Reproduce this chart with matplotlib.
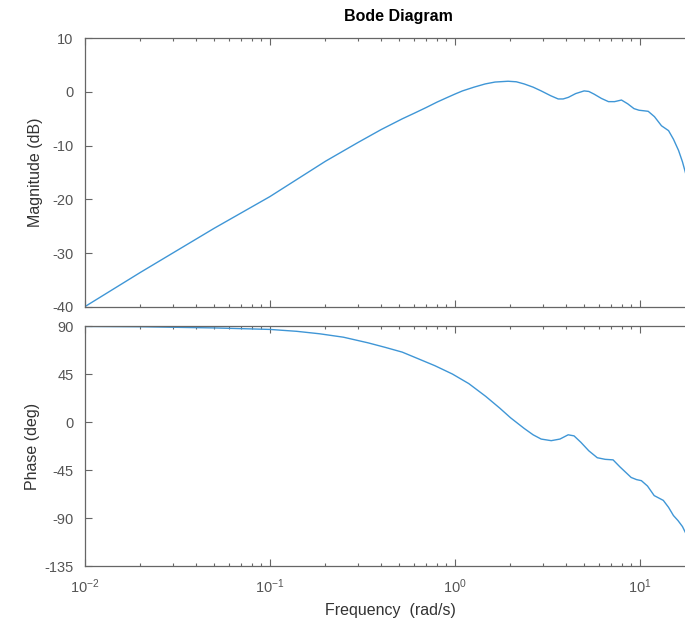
import matplotlib
matplotlib.use("Agg")
import matplotlib.pyplot as plt
from matplotlib.ticker import LogLocator, NullFormatter, FixedLocator

plt.rcParams['font.family'] = ['Liberation Sans', 'DejaVu Sans']
plt.rcParams['axes.unicode_minus'] = False

mag_w = [0.01, 0.02, 0.05, 0.1, 0.2, 0.3, 0.4, 0.52, 0.6, 0.7, 0.8, 0.9, 1.0,
         1.1, 1.27, 1.46, 1.65, 1.94, 2.15, 2.37, 2.65, 2.93, 3.3, 3.62, 3.85,
         4.11, 4.5, 5.0, 5.3, 5.66, 6.2, 6.77, 7.3, 7.96, 8.6, 9.3, 9.9, 10.5,
         11.1, 12.0, 13.1, 14.3, 15.2, 16.2, 17.0, 17.9, 20.0]
mag_db = [-40.0, -33.6, -25.4, -19.5, -12.9, -9.4, -7.0, -5.0, -4.0, -2.9, -1.9, -1.1, -0.4,
          0.2, 0.9, 1.5, 1.85, 2.0, 1.9, 1.5, 0.9, 0.2, -0.7, -1.3, -1.3,
          -1.0, -0.3, 0.2, 0.1, -0.4, -1.2, -1.8, -1.8, -1.5, -2.2, -3.1, -3.4, -3.5,
          -3.6, -4.6, -6.3, -7.2, -8.8, -10.9, -13.0, -15.8, -20.0]

ph_w = [0.01, 0.02, 0.05, 0.1, 0.14, 0.186, 0.25, 0.34, 0.42, 0.52, 0.63, 0.78,
        0.97, 1.19, 1.47, 1.75, 2.0, 2.37, 2.65, 2.93, 3.32, 3.7, 4.1, 4.41,
        4.8, 5.3, 5.89, 6.5, 7.17, 7.8, 8.98, 9.6, 10.2, 11.0, 11.96, 13.4,
        14.3, 15.2, 16.1, 17.0, 17.8, 20.0]
ph_deg = [89.6, 89.3, 88.2, 86.8, 85.0, 82.7, 79.5, 74.2, 70.0, 65.5, 59.5, 52.8,
          45.0, 36.0, 24.0, 13.0, 4.0, -6.0, -12.0, -16.0, -17.5, -16.0, -12.0, -13.0,
          -19.0, -27.0, -33.5, -35.0, -35.5, -42.0, -52.0, -54.0, -55.0, -60.0, -69.0, -73.5,
          -80.0, -87.7, -92.5, -98.0, -105.0, -115.0]

mag_ticks = [-40, -30, -20, -10, 0, 10]
ph_ticks = [-135, -90, -45, 0, 45, 90]

bleu = '#3f96d6'
gris = '#666666'

fig = plt.figure(figsize=(6.85, 6.23), dpi=100)
W, H = 685, 623
gauche = 84.8 / W
larg = (695.5 - 84.8) / W
ax1 = fig.add_axes([gauche, 1 - 306.7 / H, larg, (306.7 - 38.3) / H])
ax2 = fig.add_axes([gauche, 1 - 566 / H, larg, (566 - 326) / H])

ax1.plot(mag_w, mag_db, color=bleu, lw=1.0)
ax2.plot(ph_w, ph_deg, color=bleu, lw=1.0)

for ax, yt, ylim in [(ax1, mag_ticks, (-40, 10)), (ax2, ph_ticks, (-135, 90))]:
    ax.set_xscale('log')
    ax.set_xlim(0.01, 20)
    ax.set_ylim(*ylim)
    ax.yaxis.set_major_locator(FixedLocator(yt))
    ax.xaxis.set_major_locator(LogLocator(base=10, numticks=10))
    ax.xaxis.set_minor_locator(LogLocator(base=10, subs=range(2, 10), numticks=20))
    ax.xaxis.set_minor_formatter(NullFormatter())
    for s in ax.spines.values():
        s.set_color(gris)
        s.set_linewidth(0.9)
    ax.tick_params(which='both', direction='in', top=True, right=True, colors=gris,
                   labelcolor='#555555', labelsize=10.5, width=0.8)
    ax.tick_params(which='major', length=5, pad=8)
    ax.tick_params(which='minor', length=2.5)

ax1.tick_params(labelbottom=False)
ax1.set_ylabel('Magnitude (dB)', fontsize=11.5, color='#333333', labelpad=7)
ax2.set_ylabel('Phase (deg)', fontsize=11.5, color='#333333', labelpad=3)
ax2.set_xlabel('Frequency  (rad/s)', fontsize=11.5, color='#333333', labelpad=5)
fig.text(0.5816, 1 - 17 / H, 'Bode Diagram', ha='center', va='center',
         fontsize=11.5, fontweight='bold', color='black')

fig.savefig('out.png', dpi=100)
